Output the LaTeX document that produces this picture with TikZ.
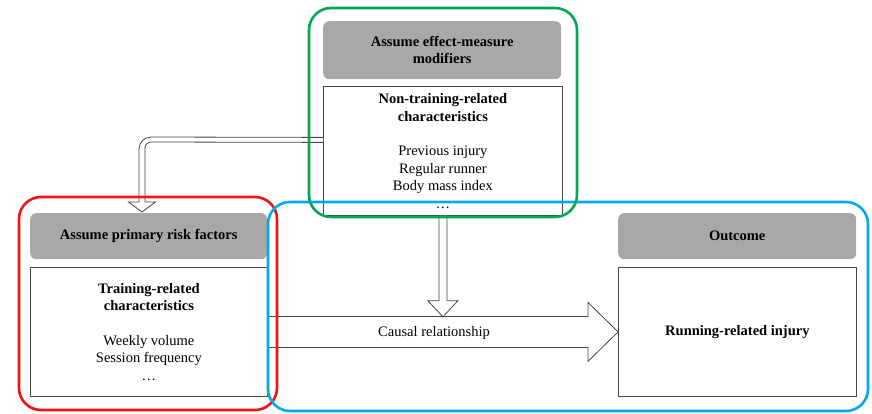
\documentclass[tikz,border=0pt]{standalone}
\usepackage{fontspec}
\setmainfont{Liberation Serif}
\usetikzlibrary{calc}
\definecolor{framered}{RGB}{240,20,20}
\definecolor{framegreen}{RGB}{0,168,80}
\definecolor{frameblue}{RGB}{0,170,235}
\definecolor{headgray}{RGB}{168,168,168}
\definecolor{edgegray}{RGB}{70,70,70}
\begin{document}
\begin{tikzpicture}[x=1pt,y=-1pt,
  headbox/.style={fill=headgray, rounded corners=6pt, draw=none, anchor=north west, inner sep=0pt},
  bodybox/.style={draw=edgegray, line width=0.8pt, fill=white, anchor=north west, inner sep=0pt},
  txt/.style={font=\fontsize{14.5}{17.4}\selectfont, align=center, inner sep=0pt},
  hdr/.style={txt, font=\fontsize{14.5}{17.4}\selectfont\bfseries},
  frame/.style={line width=2.6pt, rounded corners=22pt},
  blockarrow/.style={draw=edgegray, line width=0.8pt, fill=white, line join=miter},
]
\useasboundingbox (0,0) rectangle (872,414);

% effect-measure modifiers
\node[headbox, minimum width=238pt, minimum height=58pt] (modhead) at (323,21) {};
\node[hdr] (modtitle) at (modhead.center) {Assume effect-measure\\modifiers};
\node[bodybox, minimum width=239pt, minimum height=129pt] (modbody) at (323,86) {};
\node[txt] (modtext) at (modbody.center) {\textbf{Non-training-related}\\\textbf{characteristics}\\[17.4pt]Previous injury\\Regular runner\\Body mass index\\…};

% primary risk factors
\node[headbox, minimum width=237pt, minimum height=46pt] (riskhead) at (30,213) {};
\node[hdr] (risktitle) at (riskhead.center) {Assume primary risk factors};
\node[bodybox, minimum width=237pt, minimum height=129pt] (riskbody) at (30,267) {};
\node[txt] (risktext) at (riskbody.center) {\textbf{Training-related}\\\textbf{characteristics}\\[17.4pt]Weekly volume\\Session frequency\\…};

% outcome
\node[headbox, minimum width=238pt, minimum height=46pt] (outhead) at (618,213) {};
\node[hdr] (outtitle) at (outhead.center) {Outcome};
\node[bodybox, minimum width=238pt, minimum height=129pt] (outbody) at (618,267) {};
\node[hdr] (outtext) at (outbody.center) {Running-related injury};

% causal relationship arrow
\draw[blockarrow] ($(riskbody.east)+(0,-15.5)$) -- ($(outbody.west)+(-30,-15.5)$)
  -- ($(outbody.west)+(-30,-29.5)$) -- (outbody.west) -- ($(outbody.west)+(-30,29.5)$)
  -- ($(outbody.west)+(-30,15.5)$) -- ($(riskbody.east)+(0,15.5)$);
\node[txt] (causal) at (434,333) {Causal relationship};

% modifiers acting on the relationship
\draw[blockarrow] ($(modbody.south)+(-4,0)$) -- ($(modbody.south)+(-4,85)$)
  -- ($(modbody.south)+(-15,85)$) -- ($(modbody.south)+(0,101)$)
  -- ($(modbody.south)+(15,85)$) -- ($(modbody.south)+(4,85)$) -- ($(modbody.south)+(4,0)$);

% modifiers acting on the risk factors
\coordinate (elbowtip) at ($(riskhead.north west)+(112,-1)$);
\draw[blockarrow] ($(modbody.west)+(0,-13.5)$) -- (151,137)
  .. controls (144.4,137) and (139,142.4) .. (139,149) -- ($(elbowtip)+(-3,-10)$)
  -- ($(elbowtip)+(-13.5,-10)$) -- (elbowtip) -- ($(elbowtip)+(13.5,-10)$)
  -- ($(elbowtip)+(3,-10)$) -- (145,148)
  .. controls (145,144.7) and (147.7,142) .. (151,142) -- ($(modbody.west)+(0,-8.5)$);

% grouping frames
\draw[frame, framered] (19,197) rectangle (277,410);
\draw[frame, frameblue] (268,202) rectangle (868,411);
\draw[frame, framegreen] (309,8) rectangle (577,217);
\end{tikzpicture}
\end{document}
